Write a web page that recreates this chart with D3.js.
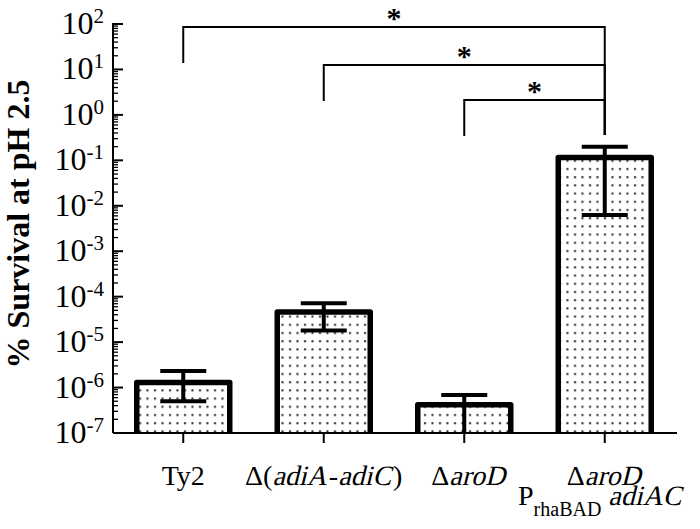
<!DOCTYPE html>
<html><head><meta charset="utf-8">
<script src="https://cdn.jsdelivr.net/npm/d3@7"></script>
<style>body{margin:0;background:#fff} svg{display:block}</style>
</head><body>
<svg id="c" width="700" height="529"></svg>
<script>
// ---- data ----
const categories = ["Ty2", "Δ(adiA-adiC)", "ΔaroD", "ΔaroD PrhaBAD adiAC"];
const survival  = [1.3e-6, 4.6e-5, 4.2e-7, 0.115];
const errUpper  = [2.3e-6, 7.2e-5, 6.9e-7, 0.20];
const errLower  = [5.0e-7, 1.8e-5, 5.0e-8, 0.0063];
const yTickExponents = [2, 1, 0, -1, -2, -3, -4, -5, -6, -7];
const comparisons = [[0, 3], [1, 3], [2, 3]];
const comparisonLabels = ["*", "*", "*"];
const yTitle = "% Survival at pH 2.5";
// rich label parts: i = italic, sub = subscript
const labelParts = [
  [[{t: "Ty2"}]],
  [[{t: "Δ("}, {t: "adiA", i: 1}, {t: "-"}, {t: "adiC", i: 1}, {t: ")"}]],
  [[{t: "Δ"}, {t: "aroD", i: 1}]],
  [[{t: "Δ"}, {t: "aroD", i: 1}], [{t: "P"}, {t: "rhaBAD", sub: 1}, {t: "\u00a0adiAC", i: 1}]]
];

// ---- layout ----
const svg = d3.select("#c");
const font = "Liberation Serif";
const x0 = 113, x1 = 677, yTop = 24, yBase = 433;
const x = d3.scalePoint().domain(categories).range([x0, 675]).padding(0.5);
const y = d3.scaleLog().domain([1e-7, 1e2]).range([yBase, yTop]);
const barW = 93;

// pattern
const defs = svg.append("defs");
const pat = defs.append("pattern").attr("id", "dots").attr("patternUnits", "userSpaceOnUse")
  .attr("width", 7.5).attr("height", 8.2).attr("x", 2).attr("y", 2);
pat.append("rect").attr("width", 7.5).attr("height", 8.2).attr("fill", "#fff");
pat.append("rect").attr("x", 2).attr("y", 2).attr("width", 2).attr("height", 2).attr("fill", "#222");

// bars
const g = svg.append("g");
categories.forEach((c, i) => {
  const cx = x(c), top = y(survival[i]);
  g.append("rect").attr("x", cx - barW / 2).attr("y", top).attr("width", barW).attr("height", yBase - top)
    .attr("fill", "url(#dots)");
  g.append("path")
    .attr("d", `M${cx - barW / 2},${yBase}V${top}H${cx + barW / 2}V${yBase}`)
    .attr("fill", "none").attr("stroke", "#000").attr("stroke-width", 5.5).attr("stroke-linejoin", "round");
  const up = y(errUpper[i]), lo = Math.min(yBase, y(errLower[i]));
  g.append("line").attr("x1", cx).attr("x2", cx).attr("y1", up).attr("y2", lo)
    .attr("stroke", "#000").attr("stroke-width", 4);
  g.append("line").attr("x1", cx - 23).attr("x2", cx + 23).attr("y1", up).attr("y2", up)
    .attr("stroke", "#000").attr("stroke-width", 4);
  if (y(errLower[i]) < yBase)
    g.append("line").attr("x1", cx - 23).attr("x2", cx + 23).attr("y1", lo).attr("y2", lo)
      .attr("stroke", "#000").attr("stroke-width", 4);
});

// y axis
const yAxis = svg.append("g");
yAxis.append("line").attr("x1", x0).attr("x2", x0).attr("y1", yTop - 1).attr("y2", yBase)
  .attr("stroke", "#000").attr("stroke-width", 2);
y.ticks().forEach(v => {
  const e = Math.log10(v);
  const major = Math.abs(e - Math.round(e)) < 1e-9;
  yAxis.append("line").attr("x1", x0).attr("x2", x0 + (major ? 10 : 5))
    .attr("y1", y(v)).attr("y2", y(v)).attr("stroke", "#000").attr("stroke-width", major ? 2 : 1.3);
});
yTickExponents.forEach(e => {
  const t = yAxis.append("text").attr("x", 104).attr("y", y(Math.pow(10, e)) + 10)
    .attr("text-anchor", "end").attr("font-family", font).attr("font-size", 32);
  t.append("tspan").text("10");
  t.append("tspan").attr("dy", -11).attr("font-size", 21).text(e < 0 ? "-" + (-e) : String(e));
});

// x axis
svg.append("line").attr("x1", x0).attr("x2", x1).attr("y1", yBase).attr("y2", yBase)
  .attr("stroke", "#000").attr("stroke-width", 2);
categories.forEach((c, i) => {
  svg.append("line").attr("x1", x(c)).attr("x2", x(c)).attr("y1", yBase).attr("y2", yBase + 10)
    .attr("stroke", "#000").attr("stroke-width", 2);
  labelParts[i].forEach((parts, li) => {
    const base = 485 + li * 20;
    const lg = svg.append("g");
    let px = 0;
    parts.forEach(p => {
      const size = p.sub ? 20 : 28;
      const dy = p.sub ? 11 : 0;
      const t = lg.append("text").attr("font-family", font).attr("font-size", size).text(p.t);
      const w = t.node().getComputedTextLength();
      t.attr("transform", `translate(${px},${base + dy})` + (p.i ? " skewX(-14)" : ""));
      px += w + (p.i ? 2 : 0);
    });
    const cxl = x(c) + (li === 1 ? -4 : (i === 2 ? 5 : 0));
    lg.attr("transform", `translate(${cxl - px / 2},0)`);
  });
});

// y title
svg.append("text").attr("transform", `translate(29,224) rotate(-90)`).attr("text-anchor", "middle")
  .attr("font-family", font).attr("font-weight", "bold").attr("font-size", 32).text(yTitle);

// significance brackets
const bracketY = [27, 65, 100], legDrop = 36, rightEnd = 135;
comparisons.forEach(([a, b], k) => {
  const xa = x(categories[a]), xb = x(categories[b]), by = bracketY[k];
  svg.append("path").attr("d", `M${xa},${by + legDrop}V${by}H${xb}V${rightEnd}`)
    .attr("fill", "none").attr("stroke", "#000").attr("stroke-width", 2);
  svg.append("text").attr("x", (xa + xb) / 2).attr("y", by + 1).attr("text-anchor", "middle")
    .attr("font-family", font).attr("font-weight", "bold").attr("font-size", 30).text(comparisonLabels[k]);
});
</script>
</body></html>
